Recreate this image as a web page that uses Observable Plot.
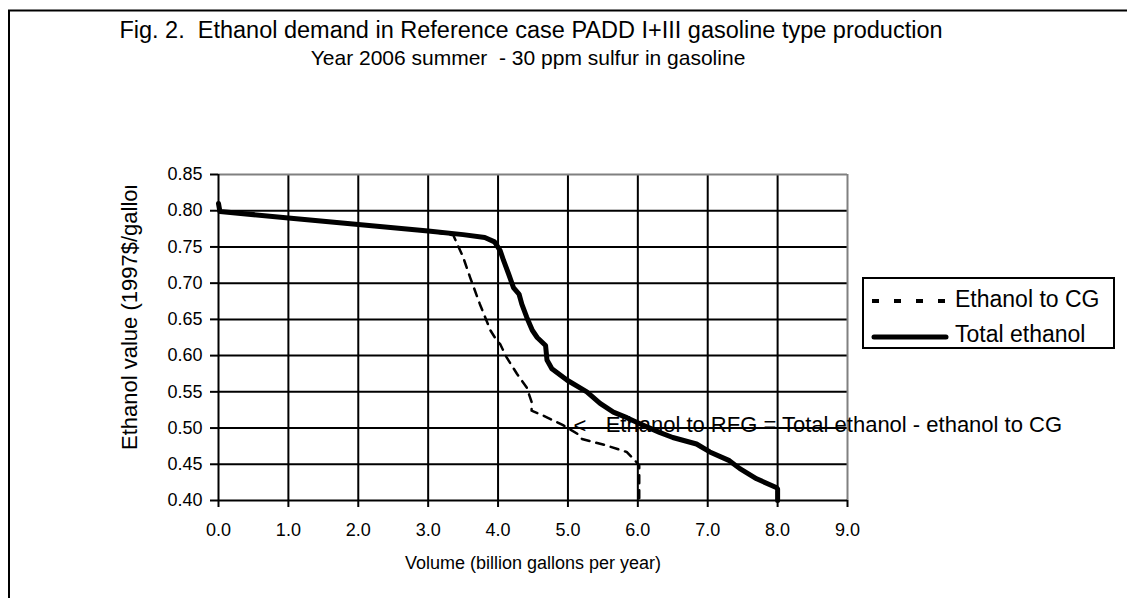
<!DOCTYPE html>
<html><head><meta charset="utf-8">
<script src="https://cdn.jsdelivr.net/npm/d3@7"></script>
<script src="https://cdn.jsdelivr.net/npm/@observablehq/plot@0.6"></script>
<style>
body{margin:0;background:#fff;}
#wrap{position:relative;width:1127px;height:598px;overflow:hidden;font-family:"Liberation Sans",Arial,sans-serif;background:#fff;}
#wrap svg{position:absolute;left:0;top:0;}
</style></head><body><div id="wrap"></div>
<script>
// ---- text ----
const titleLines = ["Fig. 2.  Ethanol demand in Reference case PADD I+III gasoline type production",
                    "Year 2006 summer  - 30 ppm sulfur in gasoline"];
const xTitle = "Volume (billion gallons per year)";
const yTitle = "Ethanol value (1997$/gallon)";
const seriesNames = ["Ethanol to CG", "Total ethanol"];
const noteText = "Ethanol to RFG = Total ethanol - ethanol to CG";
const noteArrow = "<";
const noteX = 5.54, noteY = 0.504;
const arrowX = 5.08, arrowY = 0.503;

// ---- ticks ----
const xTicks = [0, 1, 2, 3, 4, 5, 6, 7, 8, 9];
const yTicks = [0.40, 0.45, 0.50, 0.55, 0.60, 0.65, 0.70, 0.75, 0.80, 0.85];

// ---- series: Total ethanol ----
const totalX = [0, 0.02, 1.0, 2.0, 3.0, 3.5, 3.81, 3.95, 4.03, 4.08, 4.15, 4.22, 4.3, 4.34, 4.41, 4.49, 4.56, 4.68, 4.7, 4.77, 4.99, 5.27, 5.46, 5.65, 5.85, 6.03, 6.31, 6.5, 6.84, 7.03, 7.31, 7.46, 7.7, 7.98, 8.0, 8.0];
const totalY = [0.81, 0.799, 0.790, 0.781, 0.772, 0.767, 0.763, 0.757, 0.745, 0.731, 0.713, 0.694, 0.685, 0.671, 0.653, 0.635, 0.625, 0.614, 0.594, 0.582, 0.566, 0.550, 0.534, 0.522, 0.514, 0.506, 0.494, 0.487, 0.478, 0.467, 0.455, 0.444, 0.430, 0.418, 0.416, 0.400];

// ---- series: Ethanol to CG ----
const cgX = [0, 0.02, 1.0, 2.0, 3.0, 3.36, 3.5, 3.6, 3.74, 3.89, 3.98, 4.03, 4.12, 4.27, 4.41, 4.48, 4.48, 4.65, 4.93, 5.17, 5.2, 5.55, 5.84, 5.98, 6.02, 6.02];
const cgY = [0.81, 0.799, 0.790, 0.781, 0.772, 0.766, 0.736, 0.708, 0.671, 0.635, 0.621, 0.616, 0.598, 0.575, 0.556, 0.536, 0.524, 0.517, 0.504, 0.490, 0.485, 0.476, 0.467, 0.453, 0.448, 0.400];

const total = totalX.map((x, i) => ({x, y: totalY[i]}));
const cg = cgX.map((x, i) => ({x, y: cgY[i]}));

const FONT = '"Liberation Sans", Arial, sans-serif';

const chart = Plot.plot({
  width: 1127, height: 598,
  marginLeft: 218, marginRight: 280, marginTop: 174, marginBottom: 98,
  style: {fontFamily: FONT, fontSize: "18px", color: "#000", background: "transparent"},
  x: {domain: [0, 9]},
  y: {domain: [0.40, 0.85]},
  marks: [
    Plot.ruleX(xTicks.slice(1, -1), {stroke: "#000", strokeWidth: 2}),
    Plot.ruleY(yTicks.slice(1, -1), {stroke: "#000", strokeWidth: 2}),
    Plot.ruleY([yTicks[yTicks.length - 1]], {stroke: "#808080", strokeWidth: 2}),
    Plot.ruleX([xTicks[xTicks.length - 1]], {stroke: "#808080", strokeWidth: 2}),
    Plot.ruleX([xTicks[0]], {stroke: "#000", strokeWidth: 2}),
    Plot.ruleY([yTicks[0]], {stroke: "#000", strokeWidth: 2}),
    Plot.axisX({ticks: xTicks, tickFormat: d3.format(".1f"), tickSize: 7, tickPadding: 16, strokeWidth: 2, label: null, fontSize: 18}),
    Plot.axisY({ticks: yTicks, tickFormat: d3.format(".2f"), tickSize: 8, tickPadding: 8, strokeWidth: 2, label: null, fontSize: 18}),
    Plot.line(cg, {x: "x", y: "y", stroke: "#000", strokeWidth: 2.5, strokeDasharray: "8,7"}),
    Plot.line(total, {x: "x", y: "y", stroke: "#000", strokeWidth: 5, strokeLinejoin: "round"}),
    Plot.text([{t: noteArrow, x: arrowX, y: arrowY}], {x: "x", y: "y", text: "t", textAnchor: "start", fontSize: 22, fill: "#000"}),
    Plot.text([{t: noteText, x: noteX, y: noteY}], {x: "x", y: "y", text: "t", textAnchor: "start", fontSize: 22, fill: "#000"}),
    Plot.text([{t: xTitle}], {frameAnchor: "bottom", text: "t", dy: 68, fontSize: 18, fill: "#000"})
  ]
});

const wrap = document.getElementById("wrap");
wrap.appendChild(chart);

// overlay: border, titles, y label, legend
const ov = d3.select(wrap).append("svg")
  .attr("width", 1127).attr("height", 598)
  .style("font-family", FONT);

ov.append("path").attr("d", "M9,598V10.5H1127").attr("fill", "none").attr("stroke", "#000").attr("stroke-width", 2);

ov.append("text").attr("x", 531).attr("y", 38).attr("text-anchor", "middle")
  .attr("xml:space", "preserve").style("white-space", "pre")
  .attr("font-size", 23.5).text(titleLines[0]);
ov.append("text").attr("x", 528).attr("y", 65).attr("text-anchor", "middle")
  .attr("xml:space", "preserve").style("white-space", "pre")
  .attr("font-size", 21).text(titleLines[1]);

ov.append("clipPath").attr("id", "yclip").append("rect")
  .attr("x", 100).attr("y", 186).attr("width", 60).attr("height", 320);
ov.append("g").attr("clip-path", "url(#yclip)")
  .append("text")
  .attr("transform", "translate(137,450) rotate(-90)")
  .attr("text-anchor", "start").attr("font-size", 22).text(yTitle);

const lg = ov.append("g");
lg.append("rect").attr("x", 863).attr("y", 278).attr("width", 251).attr("height", 70)
  .attr("fill", "#fff").attr("stroke", "#000").attr("stroke-width", 2);
lg.append("line").attr("x1", 872).attr("x2", 947).attr("y1", 301).attr("y2", 301)
  .attr("stroke", "#000").attr("stroke-width", 4).attr("stroke-dasharray", "7,15");
lg.append("line").attr("x1", 874).attr("x2", 946).attr("y1", 337).attr("y2", 337)
  .attr("stroke", "#000").attr("stroke-width", 5).attr("stroke-linecap", "round");
lg.append("text").attr("x", 955).attr("y", 307).attr("font-size", 23).text(seriesNames[0]);
lg.append("text").attr("x", 955).attr("y", 342).attr("font-size", 23).text(seriesNames[1]);
</script></body></html>
